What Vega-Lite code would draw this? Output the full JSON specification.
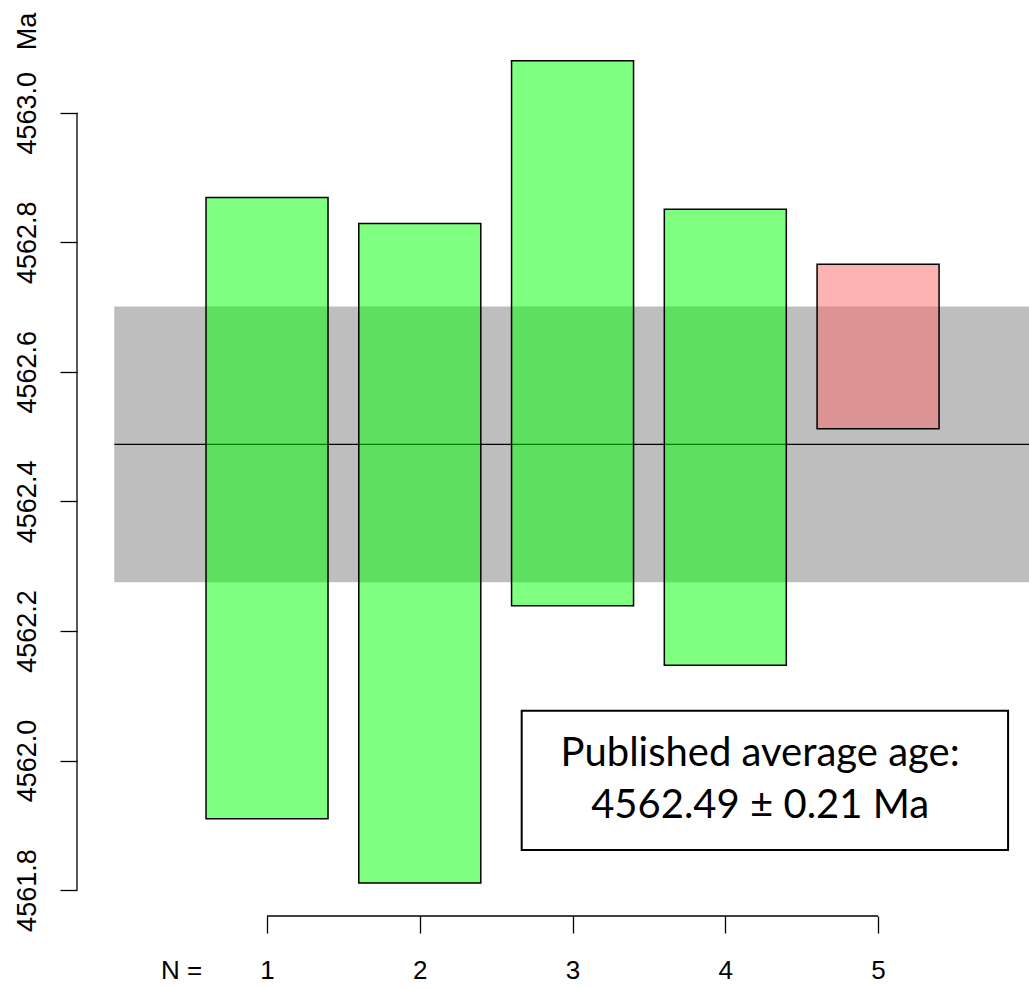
{
  "$schema": "https://vega.github.io/schema/vega-lite/v6.json",
  "autosize": {"type": "none"},
  "padding": {"left": 77, "top": 22, "right": 0, "bottom": 73},
  "width": 952,
  "height": 894,
  "background": "white",
  "view": {"stroke": null},
  "config": {
    "font": "Liberation Sans",
    "axis": {"labelColor": "black", "titleColor": "black", "tickColor": "black", "grid": false, "domain": false},
    "scale": {"continuousPadding": 0}
  },
  "datasets": {
    "ages": [
      {"n": 1, "lo": 4561.910, "hi": 4562.869, "status": "accepted"},
      {"n": 2, "lo": 4561.811, "hi": 4562.829, "status": "accepted"},
      {"n": 3, "lo": 4562.239, "hi": 4563.080, "status": "accepted"},
      {"n": 4, "lo": 4562.147, "hi": 4562.851, "status": "accepted"},
      {"n": 5, "lo": 4562.512, "hi": 4562.766, "status": "rejected"}
    ],
    "summary": [
      {"mean": 4562.488, "lo": 4562.275, "hi": 4562.701}
    ]
  },
  "layer": [
    {
      "data": {"name": "summary"},
      "mark": {"type": "rect", "color": "#BEBEBE", "clip": true},
      "encoding": {
        "x": {"datum": 0, "type": "quantitative", "scale": {"domain": [-0.244, 5.988], "nice": false, "zero": false, "padding": 0}},
        "x2": {"datum": 6},
        "y": {"field": "lo", "type": "quantitative", "scale": {"domain": [4561.76, 4563.14], "nice": false, "zero": false, "padding": 0}},
        "y2": {"field": "hi"}
      }
    },
    {
      "data": {"name": "summary"},
      "mark": {"type": "rule", "color": "black", "strokeWidth": 1.2},
      "encoding": {
        "x": {"datum": 0, "type": "quantitative"},
        "x2": {"datum": 5.988},
        "y": {"field": "mean", "type": "quantitative"}
      }
    },
    {
      "data": {"name": "ages"},
      "mark": {"type": "bar", "width": 122, "stroke": "black", "strokeWidth": 1.5, "fillOpacity": 0.5},
      "encoding": {
        "x": {
          "field": "n", "type": "quantitative",
          "scale": {"domain": [-0.244, 5.988], "nice": false, "zero": false, "padding": 0},
          "axis": {
            "values": [1, 2, 3, 4, 5],
            "format": "d",
            "tickSize": 17,
            "tickWidth": 1.3,
            "labelFontSize": 26,
            "labelBaseline": "alphabetic",
            "labelPadding": 45,
            "labelFlush": false,
            "title": "N =",
            "titleFontSize": 26,
            "titleFontWeight": "normal",
            "titleAnchor": "start",
            "titleAlign": "center",
            "titleBaseline": "alphabetic",
            "titleX": 104,
            "titleY": 62
          }
        },
        "y": {
          "field": "lo", "type": "quantitative",
          "scale": {"domain": [4561.76, 4563.14], "nice": false, "zero": false, "padding": 0},
          "axis": {
            "values": [4561.8, 4562.0, 4562.2, 4562.4, 4562.6, 4562.8, 4563.0],
            "format": ".1f",
            "tickSize": 17,
            "tickWidth": 1.3,
            "labelAngle": 270,
            "labelAlign": "center",
            "labelBaseline": "alphabetic",
            "labelPadding": 25,
            "labelFontSize": 27,
            "labelFlush": false,
            "title": "Ma",
            "titleFontSize": 27,
            "titleFontWeight": "normal",
            "titleAngle": 270,
            "titleAlign": "center",
            "titleBaseline": "alphabetic",
            "titleX": -42,
            "titleY": 9
          }
        },
        "y2": {"field": "hi"},
        "fill": {
          "field": "status", "type": "nominal",
          "scale": {"domain": ["accepted", "rejected"], "range": ["#00FF00", "#F86868"]},
          "legend": null
        }
      }
    },
    {
      "data": {"values": [{}]},
      "mark": {"type": "rule", "color": "black", "strokeWidth": 1.3},
      "encoding": {
        "x": {"datum": -0.244, "type": "quantitative"},
        "y": {"datum": 4561.8, "type": "quantitative"},
        "y2": {"datum": 4563.0}
      }
    },
    {
      "data": {"values": [{}]},
      "mark": {"type": "rule", "color": "black", "strokeWidth": 1.3},
      "encoding": {
        "x": {"datum": 1, "type": "quantitative"},
        "x2": {"datum": 5},
        "y": {"datum": 4561.76, "type": "quantitative"}
      }
    },
    {
      "data": {"values": [{}]},
      "mark": {"type": "rect", "fill": "white", "stroke": "black", "strokeWidth": 2},
      "encoding": {
        "x": {"datum": 2.667, "type": "quantitative"},
        "x2": {"datum": 5.851},
        "y": {"datum": 4561.862, "type": "quantitative"},
        "y2": {"datum": 4562.077}
      }
    },
    {
      "data": {"name": "summary"},
      "mark": {
        "type": "text",
        "font": "Lato",
        "fontSize": 40,
        "align": "center",
        "baseline": "alphabetic",
        "lineBreak": "\n",
        "lineHeight": 52,
        "color": "black",
        "text": "Published average age:\n4562.49 ± 0.21 Ma"
      },
      "encoding": {
        "x": {"datum": 4.228, "type": "quantitative"},
        "y": {"datum": 4561.992, "type": "quantitative"}
      }
    }
  ]
}
